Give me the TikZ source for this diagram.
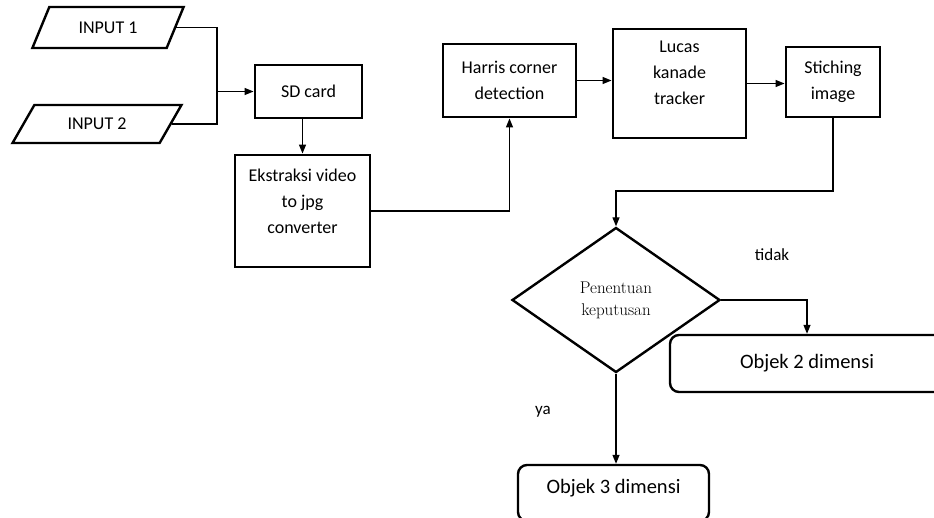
\documentclass[tikz,border=0pt]{standalone}
\usepackage{fontspec}
\newfontfamily\calfont{Carlito}
\usetikzlibrary{shapes.geometric,arrows.meta}

\tikzset{
  blok/.style={draw, line width=2.9pt, align=center, inner sep=0pt,
    font=\calfont\fontsize{18}{26}\selectfont},
  masukan/.style={draw, line width=2.4pt, trapezium, trapezium stretches=true,
    inner sep=0pt, font=\calfont\fontsize{18}{22}\selectfont},
  putusan/.style={draw, line width=2.4pt, diamond, align=center, inner sep=0pt,
    font=\fontsize{17}{22}\selectfont},
  akhir/.style={draw, line width=2.4pt, rounded corners=9pt,
    font=\calfont\fontsize{20.5}{24}\selectfont},
  ket/.style={font=\calfont\fontsize{17}{20}\selectfont},
  garis/.style={line width=1.3pt},
  panah/.style={garis, -{Triangle[length=9pt,width=7pt]}},
}

\begin{document}
\begin{tikzpicture}[x=1pt,y=-1pt]
\clip (0,0) rectangle (934,517);

% masukan
\node[masukan, trapezium left angle=54, trapezium right angle=126,
  minimum width=152, minimum height=41] (in1) at (108,27.5) {INPUT 1};
\node[masukan, trapezium left angle=49, trapezium right angle=131,
  minimum width=170, minimum height=38] (in2) at (97,124) {INPUT 2};
\coordinate (gabung) at (217,91.5);

% proses
\node[blok, minimum width=107, minimum height=53] (sd) at (308.5,91.5) {SD card};
\node[blok, minimum width=135, minimum height=112] (eks) at (302.5,211)
  {Ekstraksi video\\to jpg\\converter\\[-7pt]\mbox{}};
\node[blok, minimum width=133, minimum height=73] (harris) at (509.5,80.5)
  {Harris corner\\detection};
\node[blok, minimum width=133, minimum height=109] (lucas) at (679.5,83.5)
  {Lucas\\kanade\\tracker\\[-4pt]\mbox{}};
\node[blok, minimum width=94, minimum height=70] (stich) at (833,82)
  {Stiching\\image};

% keputusan
\node[putusan, minimum width=208, minimum height=145] (pilih) at (616,300)
  {Penentuan\\keputusan};
\coordinate (belok) at (616,191);
\node[akhir, minimum width=274, minimum height=57] (obj2) at (807,363.5)
  {Objek 2 dimensi};
\node[akhir, minimum width=191, minimum height=56, text depth=14pt] (obj3) at (613.5,493)
  {Objek 3 dimensi};
\node[ket] (tidak) at (772,255) {tidak};
\node[ket] (ya) at (543,412) {ya};

% garis
\draw[garis] (in1.east) -| (gabung);
\draw[garis] (in2.east) -| (gabung);
\draw[panah] (gabung) -- (sd.west);
\draw[panah] (sd.south -| eks.north) -- (eks.north);
\draw[panah] (eks.east) -| (harris.south);
\draw[panah] (harris.east) -- (harris.east -| lucas.west);
\draw[panah] (lucas.east) -- (lucas.east -| stich.west);
\draw[panah] (stich.south) |- (belok) -- (pilih.north);
\draw[panah] (pilih.east) -| (obj2.north);
\draw[panah] (pilih.south) -- (pilih.south |- obj3.north);
\end{tikzpicture}
\end{document}
